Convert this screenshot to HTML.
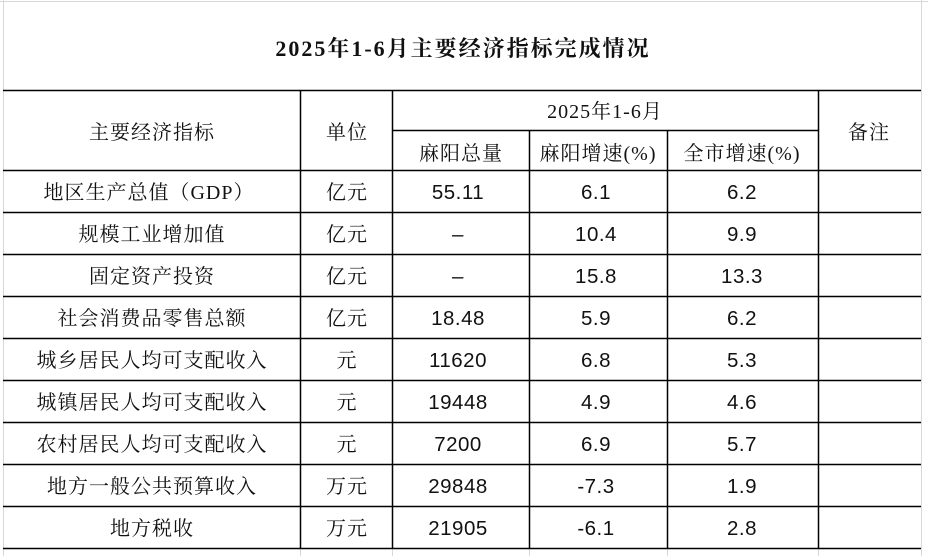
<!DOCTYPE html>
<html><head><meta charset="utf-8"><style>
html,body{margin:0;padding:0;background:#fff;width:928px;height:556px;overflow:hidden}
svg text{font-family:"Liberation Serif","Noto Serif CJK SC",serif;font-size:20px;letter-spacing:1px;fill:#111}
svg text.n{font-family:"Liberation Sans",sans-serif;font-size:20.5px;letter-spacing:0.5px}
svg text.t{font-family:"Liberation Serif","Noto Serif CJK SC",serif;font-size:22px;font-weight:bold;letter-spacing:2px}
</style></head><body>
<svg width="928" height="556" xmlns="http://www.w3.org/2000/svg">
<g stroke="#d8d8d8" stroke-width="1">
<line x1="0" y1="1.5" x2="928" y2="1.5"/>
<line x1="3.5" y1="0" x2="3.5" y2="556"/>
<line x1="921.5" y1="0" x2="921.5" y2="556"/>
<line x1="300.5" y1="548" x2="300.5" y2="556"/>
<line x1="392.5" y1="548" x2="392.5" y2="556"/>
<line x1="529.5" y1="548" x2="529.5" y2="556"/>
<line x1="667.5" y1="548" x2="667.5" y2="556"/>
<line x1="818.5" y1="548" x2="818.5" y2="556"/>
</g>
<g stroke="#000" stroke-width="1.5">
<line x1="3" y1="90.5" x2="921" y2="90.5"/>
<line x1="392" y1="130.5" x2="818" y2="130.5"/>
<line x1="3" y1="170.5" x2="921" y2="170.5"/>
<line x1="3" y1="212.5" x2="921" y2="212.5"/>
<line x1="3" y1="254.5" x2="921" y2="254.5"/>
<line x1="3" y1="296.5" x2="921" y2="296.5"/>
<line x1="3" y1="338.5" x2="921" y2="338.5"/>
<line x1="3" y1="380.5" x2="921" y2="380.5"/>
<line x1="3" y1="422.5" x2="921" y2="422.5"/>
<line x1="3" y1="464.5" x2="921" y2="464.5"/>
<line x1="3" y1="506.5" x2="921" y2="506.5"/>
<line x1="3" y1="548.5" x2="921" y2="548.5"/>
<line x1="300.5" y1="90" x2="300.5" y2="548"/>
<line x1="392.5" y1="90" x2="392.5" y2="548"/>
<line x1="529.5" y1="130" x2="529.5" y2="548"/>
<line x1="667.5" y1="130" x2="667.5" y2="548"/>
<line x1="818.5" y1="90" x2="818.5" y2="548"/>
</g>
<text class="t" x="463" y="56" text-anchor="middle">2025年1-6月主要经济指标完成情况</text>
<g text-anchor="middle">
<text x="152" y="139">主要经济指标</text>
<text x="347" y="139">单位</text>
<text x="605" y="118">2025年1-6月</text>
<text x="461" y="160">麻阳总量</text>
<text x="598" y="160">麻阳增速(%)</text>
<text x="742" y="160">全市增速(%)</text>
<text x="869" y="139">备注</text>

<text x="149" y="199">地区生产总值（GDP）</text>
<text x="152" y="241">规模工业增加值</text>
<text x="152" y="283">固定资产投资</text>
<text x="152" y="325">社会消费品零售总额</text>
<text x="152" y="367">城乡居民人均可支配收入</text>
<text x="152" y="409">城镇居民人均可支配收入</text>
<text x="152" y="451">农村居民人均可支配收入</text>
<text x="152" y="493">地方一般公共预算收入</text>
<text x="152" y="535">地方税收</text>

<text x="347" y="199">亿元</text>
<text x="347" y="241">亿元</text>
<text x="347" y="283">亿元</text>
<text x="347" y="325">亿元</text>
<text x="347" y="367">元</text>
<text x="347" y="409">元</text>
<text x="347" y="451">元</text>
<text x="347" y="493">万元</text>
<text x="347" y="535">万元</text>
</g>
<g text-anchor="middle">
<text class="n" x="458" y="199">55.11</text>
<text class="n" x="458" y="241">–</text>
<text class="n" x="458" y="283">–</text>
<text class="n" x="458" y="325">18.48</text>
<text class="n" x="458" y="367">11620</text>
<text class="n" x="458" y="409">19448</text>
<text class="n" x="458" y="451">7200</text>
<text class="n" x="458" y="493">29848</text>
<text class="n" x="458" y="535">21905</text>

<text class="n" x="596" y="199">6.1</text>
<text class="n" x="596" y="241">10.4</text>
<text class="n" x="596" y="283">15.8</text>
<text class="n" x="596" y="325">5.9</text>
<text class="n" x="596" y="367">6.8</text>
<text class="n" x="596" y="409">4.9</text>
<text class="n" x="596" y="451">6.9</text>
<text class="n" x="596" y="493">-7.3</text>
<text class="n" x="596" y="535">-6.1</text>

<text class="n" x="742" y="199">6.2</text>
<text class="n" x="742" y="241">9.9</text>
<text class="n" x="742" y="283">13.3</text>
<text class="n" x="742" y="325">6.2</text>
<text class="n" x="742" y="367">5.3</text>
<text class="n" x="742" y="409">4.6</text>
<text class="n" x="742" y="451">5.7</text>
<text class="n" x="742" y="493">1.9</text>
<text class="n" x="742" y="535">2.8</text>
</g>
</svg>
</body></html>
